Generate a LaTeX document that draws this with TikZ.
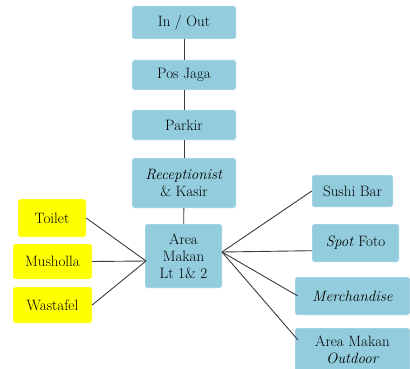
\documentclass[tikz,border=0pt]{standalone}
\usepackage{xcolor}
\definecolor{biru}{RGB}{147,205,221}
\definecolor{kuning}{RGB}{255,255,0}
\definecolor{garis}{RGB}{60,60,60}

\begin{document}
\begin{tikzpicture}[x=1pt,y=-1pt,
		kotak/.style={draw=white, fill=biru, rounded corners=2pt, align=center, inner sep=0pt,
			font=\rmfamily\fontsize{15}{17}\selectfont},
		kuningbox/.style={kotak, fill=kuning},
		hubung/.style={draw=garis, line width=0.9pt}]
		\useasboundingbox (0,0) rectangle (410,369);
		% jalur utama
		\node[kotak, minimum width=104pt, minimum height=33pt] (inout) at (184,22.5) {In / Out};
		\node[kotak, minimum width=104pt, minimum height=30pt] (posjaga) at (184,75) {Pos Jaga};
		\node[kotak, minimum width=104pt, minimum height=30pt] (parkir) at (184,125) {Parkir};
		\node[kotak, minimum width=104pt, minimum height=50pt] (resepsionis) at (184,183) {\textit{Receptionist}\\\& Kasir};
		\node[kotak, minimum width=77pt, minimum height=64pt] (areamakan) at (183.5,256) {Area\\Makan\\Lt 1\& 2};
		% fasilitas kiri
		\node[kuningbox, minimum width=68pt, minimum height=38pt] (toilet) at (52,218) {Toilet};
		\node[kuningbox, minimum width=79pt, minimum height=35pt] (musholla) at (52.5,261.5) {Musholla};
		\node[kuningbox, minimum width=79pt, minimum height=36pt] (wastafel) at (52.5,305) {Wastafel};
		% fasilitas kanan
		\node[kotak, minimum width=81pt, minimum height=32pt] (sushibar) at (352.5,191) {Sushi Bar};
		\node[kotak, minimum width=87pt, minimum height=38pt] (spotfoto) at (355.5,243) {\textit{Spot} Foto};
		\node[kotak, minimum width=115pt, minimum height=38pt] (merch) at (352.5,296) {\textit{Merchandise}};
		\node[kotak, minimum width=115pt, minimum height=44pt] (outdoor) at (352.5,350) {Area Makan\\\textit{Outdoor}};
		\coordinate (kiri) at (146,261);
		\coordinate (kanan) at (222,252);
		% garis
		\draw[hubung] (inout) -- (posjaga);
		\draw[hubung] (posjaga) -- (parkir);
		\draw[hubung] (parkir) -- (resepsionis);
		\draw[hubung] (resepsionis) -- (areamakan);
		\draw[hubung] (toilet.east) -- (kiri);
		\draw[hubung] (musholla.east) -- (kiri);
		\draw[hubung] (wastafel.east) -- (kiri);
		\draw[hubung] (kanan) -- (sushibar.west);
		\draw[hubung] (kanan) -- (spotfoto.190);
		\draw[hubung] (kanan) -- ([xshift=3pt]merch.west);
		\draw[hubung] (kanan) -- ([xshift=3pt]outdoor.170);
	\end{tikzpicture}
\end{document}
